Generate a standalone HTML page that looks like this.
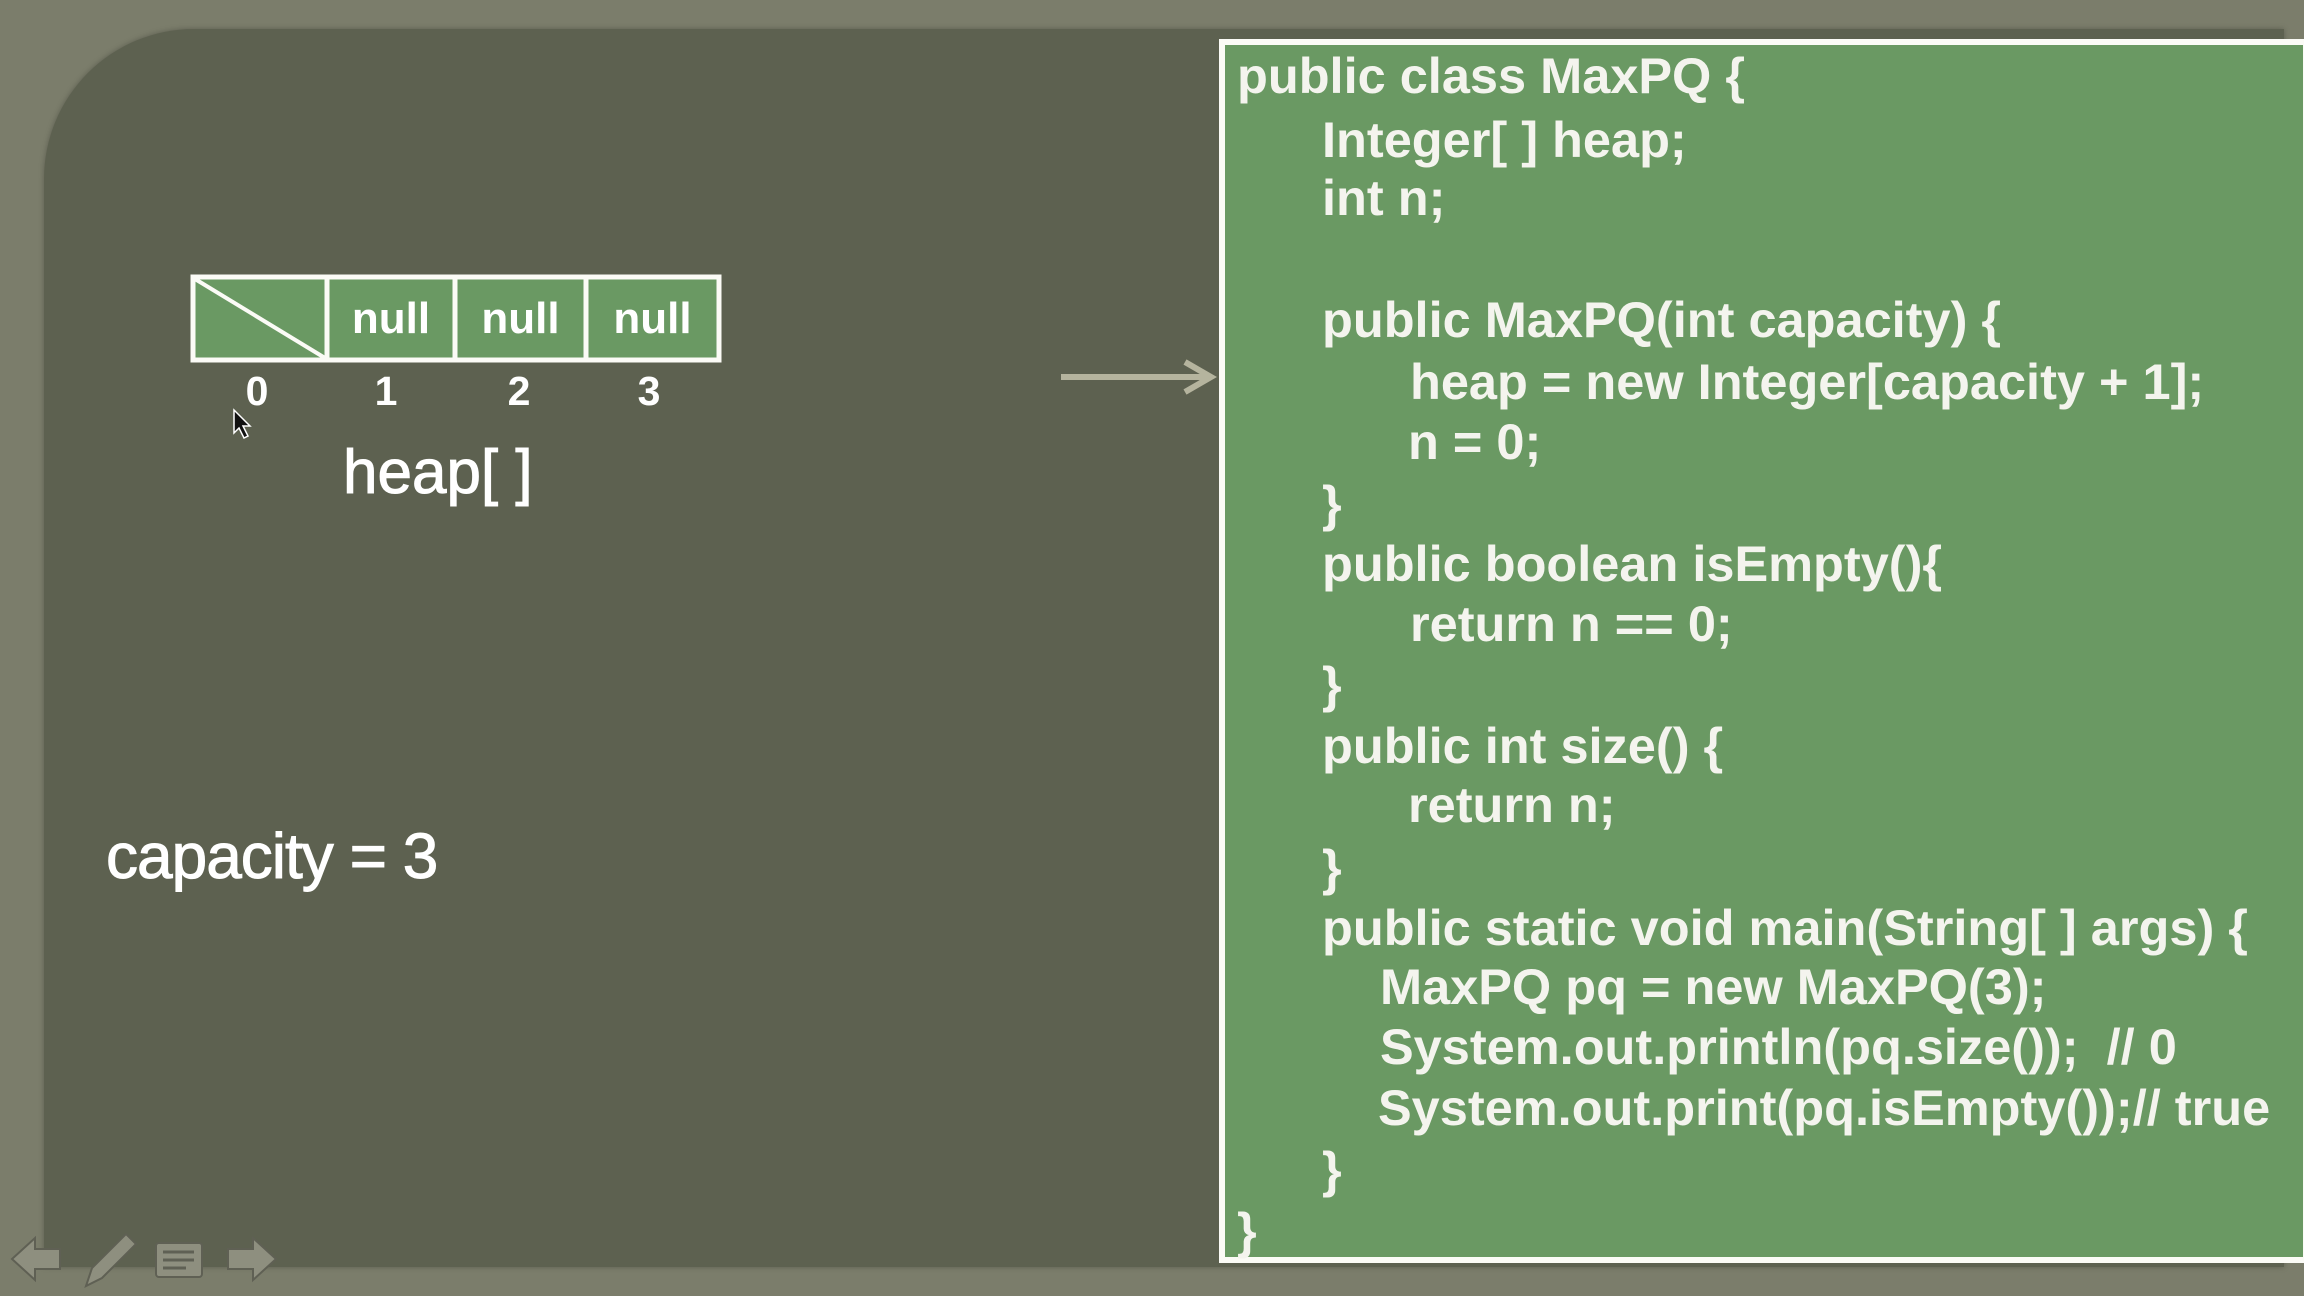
<!DOCTYPE html>
<html><head><meta charset="utf-8"><style>
html,body{margin:0;padding:0;}
body{width:2304px;height:1296px;position:relative;overflow:hidden;background:#7b7d6b;font-family:"Liberation Sans",Arial,sans-serif;}
#panel{position:absolute;left:44px;top:29px;width:2240px;height:1238px;background:#5d6150;border-top-left-radius:150px;box-shadow:0 0 6px rgba(0,0,0,0.25);}
.t{position:absolute;color:#fff;white-space:pre;}
#code{position:absolute;left:1219px;top:39px;height:1224px;background:#6a9963;border:6px solid #fbfbf6;box-sizing:border-box;width:1090px;}
.c{position:absolute;color:#f4f4ee;font-weight:bold;font-size:50.5px;white-space:pre;line-height:60px;height:60px;}
</style></head><body>
<div id="panel"></div>

<svg style="position:absolute;left:0;top:0" width="2304" height="1296">
  <rect x="193" y="277" width="526" height="83" fill="#6a9963" stroke="#fbfbf6" stroke-width="5"/>
  <line x1="327" y1="277" x2="327" y2="360" stroke="#fbfbf6" stroke-width="5"/>
  <line x1="455" y1="277" x2="455" y2="360" stroke="#fbfbf6" stroke-width="5"/>
  <line x1="586" y1="277" x2="586" y2="360" stroke="#fbfbf6" stroke-width="5"/>
  <line x1="195" y1="279" x2="325" y2="358" stroke="#fbfbf6" stroke-width="4"/>
  <line x1="1061" y1="377" x2="1210" y2="377" stroke="#b5b49e" stroke-width="6"/>
  <polyline points="1185,362 1211,377 1185,392" fill="none" stroke="#b5b49e" stroke-width="6"/>
  <polygon points="234,410 234,433 239,428 244,438 248,436 243,426 250,426" fill="#111" stroke="#fff" stroke-width="1.5"/>
  <g fill="#8e8f7f" stroke="#5f6054" stroke-width="2">
    <polygon points="12,1259 35,1238 35,1249 60,1249 60,1269 35,1269 35,1280"/>
    <polygon points="276,1259 253,1238 253,1249 228,1249 228,1269 253,1269 253,1280"/>
    <rect x="156" y="1243" width="46" height="34" rx="3"/>
    <polygon points="86,1286 92,1268 126,1234 136,1244 102,1278"/>
  </g>
  <g stroke="#5f6054" stroke-width="3">
    <line x1="163" y1="1252" x2="194" y2="1252"/><line x1="163" y1="1260" x2="194" y2="1260"/><line x1="163" y1="1268" x2="186" y2="1268"/>
  </g>
</svg>

<div class="t" style="left:327px;top:296px;width:128px;text-align:center;font-weight:bold;font-size:44px;line-height:46px;">null</div>
<div class="t" style="left:455px;top:296px;width:131px;text-align:center;font-weight:bold;font-size:44px;line-height:46px;">null</div>
<div class="t" style="left:586px;top:296px;width:133px;text-align:center;font-weight:bold;font-size:44px;line-height:46px;">null</div>
<div class="t" style="left:237px;top:369px;width:40px;text-align:center;font-weight:bold;font-size:41px;line-height:44px;">0</div>
<div class="t" style="left:366px;top:369px;width:40px;text-align:center;font-weight:bold;font-size:41px;line-height:44px;">1</div>
<div class="t" style="left:499px;top:369px;width:40px;text-align:center;font-weight:bold;font-size:41px;line-height:44px;">2</div>
<div class="t" style="left:629px;top:369px;width:40px;text-align:center;font-weight:bold;font-size:41px;line-height:44px;">3</div>
<div class="t" style="left:343px;top:438px;font-size:62px;line-height:70px;-webkit-text-stroke:1px #fff;">heap[ ]</div>
<div class="t" style="left:106px;top:821px;font-size:64px;line-height:70px;letter-spacing:-1px;-webkit-text-stroke:1px #fff;">capacity = 3</div>

<div id="code"></div>
<div class="c" style="left:1237px;top:46px">public class MaxPQ {</div>
<div class="c" style="left:1322px;top:110px">Integer[ ] heap;</div>
<div class="c" style="left:1322px;top:168px">int n;</div>
<div class="c" style="left:1322px;top:290px">public MaxPQ(int capacity) {</div>
<div class="c" style="left:1410px;top:352px">heap = new Integer[capacity + 1];</div>
<div class="c" style="left:1408px;top:412px">n = 0;</div>
<div class="c" style="left:1322px;top:474px">}</div>
<div class="c" style="left:1322px;top:534px">public boolean isEmpty(){</div>
<div class="c" style="left:1410px;top:594px">return n == 0;</div>
<div class="c" style="left:1322px;top:655px">}</div>
<div class="c" style="left:1322px;top:716px">public int size() {</div>
<div class="c" style="left:1408px;top:775px">return n;</div>
<div class="c" style="left:1322px;top:838px">}</div>
<div class="c" style="left:1322px;top:898px">public static void main(String[ ] args) {</div>
<div class="c" style="left:1380px;top:957px">MaxPQ pq = new MaxPQ(3);</div>
<div class="c" style="left:1380px;top:1017px">System.out.println(pq.size());  // 0</div>
<div class="c" style="left:1378px;top:1078px">System.out.print(pq.isEmpty());// true</div>
<div class="c" style="left:1322px;top:1140px">}</div>
<div class="c" style="left:1237px;top:1201px">}</div>
</body></html>
